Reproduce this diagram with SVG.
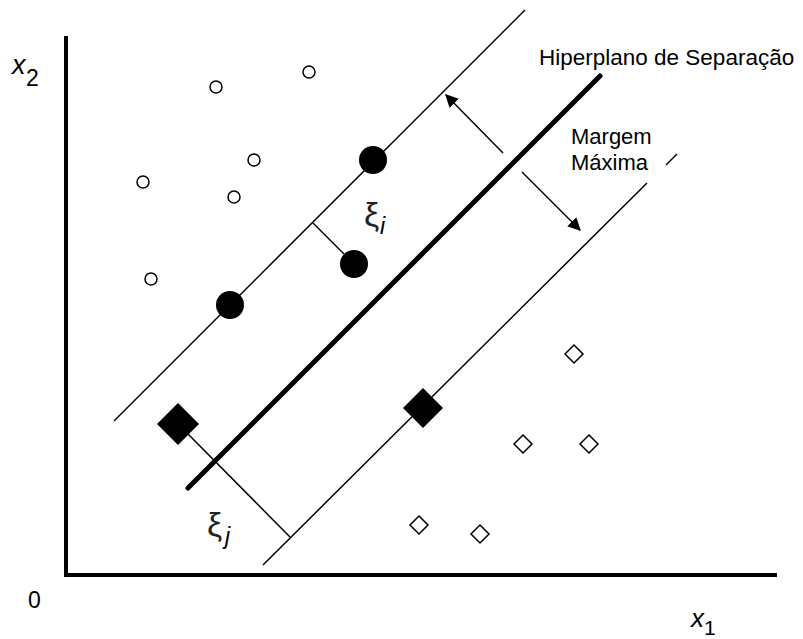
<svg xmlns="http://www.w3.org/2000/svg" width="803" height="639" viewBox="0 0 803 639">
<style>
text{font-family:"Liberation Sans",Arial,sans-serif;fill:#000}
.thin{stroke:#000;stroke-width:1.5;fill:none}
.open{fill:#fff;stroke:#000;stroke-width:1.5}
.solid{fill:#000;stroke:none}
.xi{font-size:34px;fill:#222}
</style>
<defs>
<marker id="ah" viewBox="0 0 10 10" refX="9" refY="5" markerWidth="13" markerHeight="13" markerUnits="userSpaceOnUse" orient="auto">
<path d="M0,0 L10,5 L0,10 z" fill="#000"/>
</marker>
</defs>
<rect width="803" height="639" fill="#fff"/>
<g id="axes">
<path d="M66,36 V575 H777" fill="none" stroke="#000" stroke-width="4"/>
<text x="12" y="74" font-size="27" font-style="italic">x</text>
<text x="26" y="86" font-size="23">2</text>
<text x="28" y="608" font-size="23">0</text>
<text x="691" y="627" font-size="26" font-style="italic">x</text>
<text x="704" y="635" font-size="21">1</text>
</g>
<g id="connectors">
<line id="upper-margin" class="thin" x1="114" y1="421" x2="525" y2="10"/>
<line id="hyperplane" x1="188" y1="488" x2="600" y2="76" stroke="#000" stroke-width="5" stroke-linecap="round"/>
<line id="lower-margin" class="thin" x1="263" y1="565" x2="647" y2="183"/>
<line class="thin" x1="666" y1="165" x2="677" y2="154"/>
<line class="thin" x1="503" y1="153" x2="446" y2="95" marker-end="url(#ah)"/>
<line class="thin" x1="522" y1="172" x2="580" y2="230" marker-end="url(#ah)"/>
<line class="thin" x1="313" y1="223" x2="344" y2="254"/>
<line class="thin" x1="188" y1="434" x2="290" y2="537"/>
</g>
<g id="open-circles">
<circle class="open" cx="216" cy="87" r="6"/>
<circle class="open" cx="309" cy="72" r="6"/>
<circle class="open" cx="254" cy="160" r="6"/>
<circle class="open" cx="143" cy="182" r="6"/>
<circle class="open" cx="234" cy="197" r="6"/>
<circle class="open" cx="151" cy="279" r="6"/>
</g>
<g id="support-circles">
<circle class="solid" cx="373" cy="160" r="14"/>
<circle class="solid" cx="354" cy="264" r="14"/>
<circle class="solid" cx="230" cy="305" r="14"/>
</g>
<g id="support-diamonds">
<path class="solid" d="M178,403 L199,424 L178,445 L157,424 z"/>
<path class="solid" d="M423,388 L443,408 L423,428 L403,408 z"/>
</g>
<g id="open-diamonds">
<path class="open" d="M574,345 L583,354 L574,363 L565,354 z"/>
<path class="open" d="M523,435 L532,444 L523,453 L514,444 z"/>
<path class="open" d="M589,435 L598,444 L589,453 L580,444 z"/>
<path class="open" d="M419,516 L428,525 L419,534 L410,525 z"/>
<path class="open" d="M480,525 L489,534 L480,543 L471,534 z"/>
</g>
<g id="labels">
<text x="539" y="65" font-size="22.5">Hiperplano de Separação</text>
<text x="571" y="144" font-size="22">Margem</text>
<text x="571" y="170" font-size="22">Máxima</text>
<text class="xi" x="364" y="226">ξ</text>
<text x="380" y="234" font-size="23" font-style="italic">i</text>
<text class="xi" x="207" y="536">ξ</text>
<text x="225" y="544" font-size="23" font-style="italic">j</text>
</g>
</svg>
